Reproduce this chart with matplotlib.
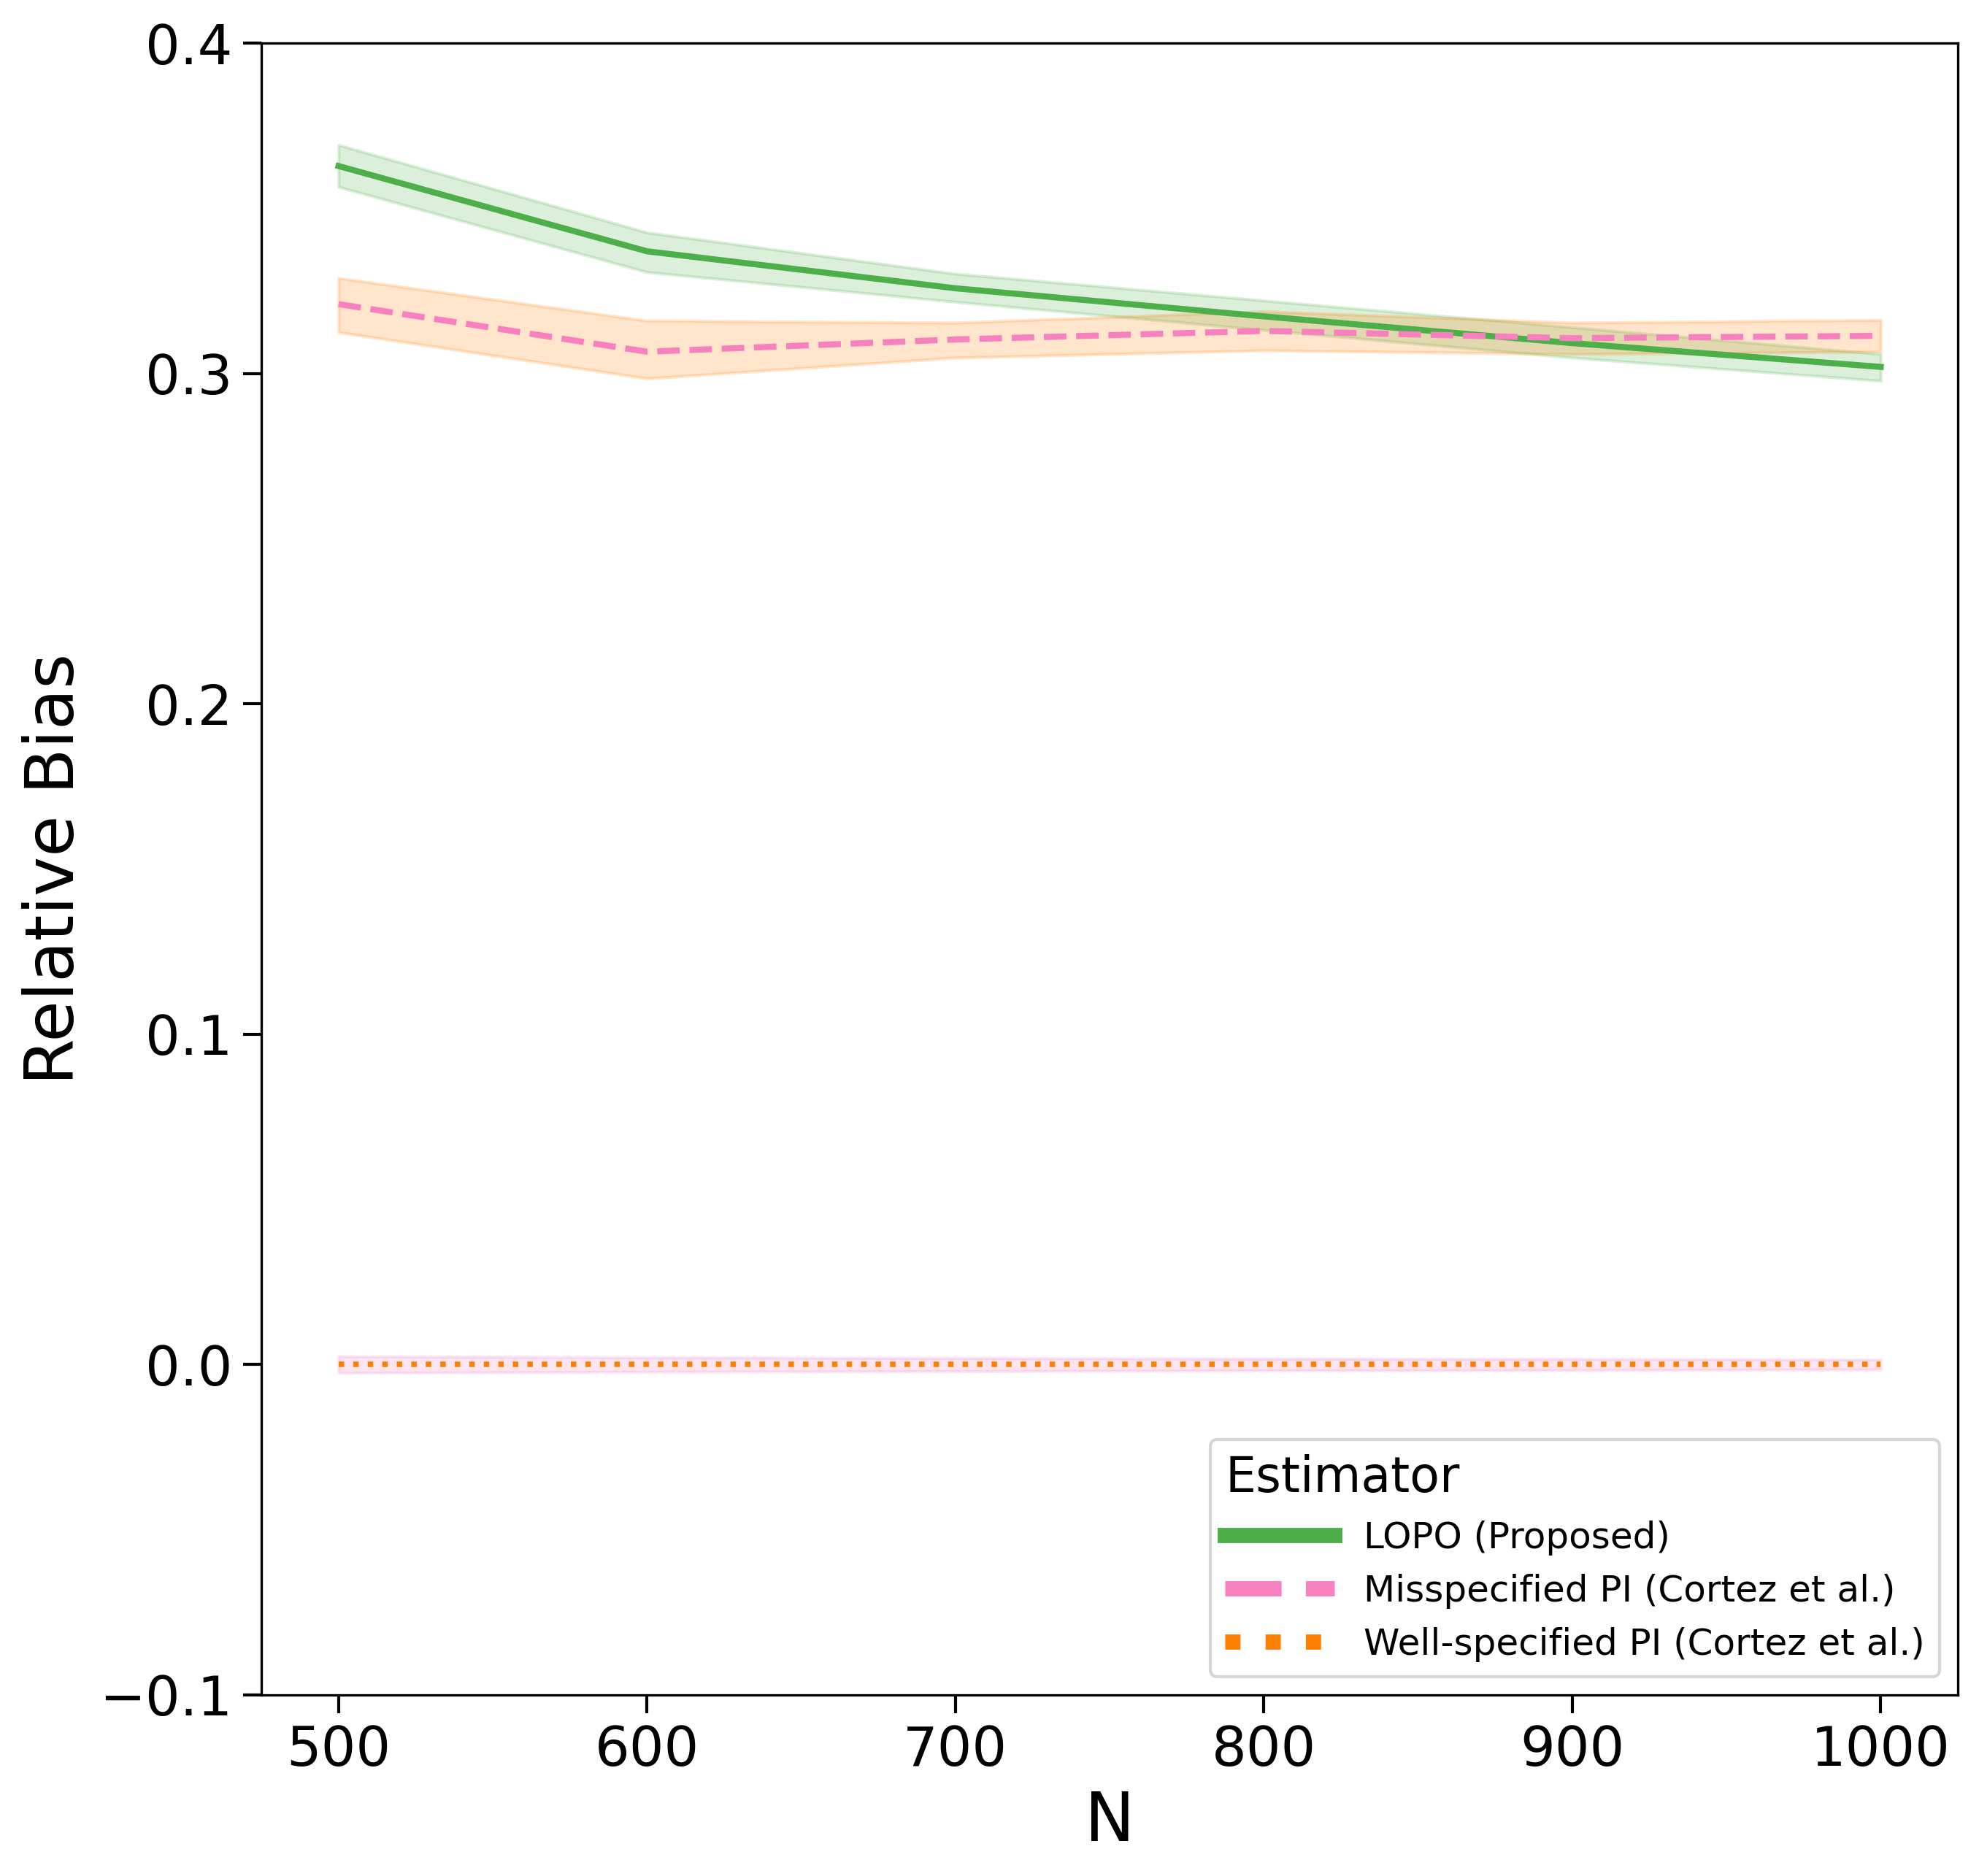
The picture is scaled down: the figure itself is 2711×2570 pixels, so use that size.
import numpy as np
import matplotlib
matplotlib.use('Agg')
import matplotlib.pyplot as plt
from matplotlib.lines import Line2D

# data
n_values = [500, 600, 700, 800, 900, 1000]

lopo_mean = [0.3628, 0.3370, 0.3258, 0.3173, 0.3092, 0.3020]
lopo_low = [0.3565, 0.3307, 0.3217, 0.3132, 0.3048, 0.2978]
lopo_high = [0.3692, 0.3427, 0.3302, 0.3221, 0.3140, 0.3059]

mis_mean = [0.3210, 0.3066, 0.3103, 0.3129, 0.3107, 0.3114]
mis_low = [0.3125, 0.2985, 0.3048, 0.3070, 0.3059, 0.3066]
mis_high = [0.3289, 0.3160, 0.3154, 0.3188, 0.3154, 0.3162]

well_mean = [0.0, 0.0, 0.0, 0.0, 0.0, 0.0]
well_low = [-0.0025, -0.0022, -0.0020, -0.0018, -0.0017, -0.0015]
well_high = [0.0025, 0.0022, 0.0020, 0.0018, 0.0017, 0.0015]

labels = ['LOPO (Proposed)', 'Misspecified PI (Cortez et al.)',
          'Well-specified PI (Cortez et al.)']

green = '#4daf4a'
pink = '#f781bf'
orange = '#ff7f00'

fig = plt.figure(figsize=(2711 / 300, 2570 / 300), dpi=300)
ax = fig.add_axes([0.1321, 0.0965, 0.8572, 0.8805])

# bands (note: band colours of the two PI estimators are swapped in the original)
ax.fill_between(n_values, lopo_low, lopo_high, color=green, alpha=0.2)
ax.fill_between(n_values, mis_low, mis_high, color=orange, alpha=0.2)
ax.fill_between(n_values, well_low, well_high, color=pink, alpha=0.2)

ax.plot(n_values, lopo_mean, color=green, lw=2, linestyle='-')
ax.plot(n_values, mis_mean, color=pink, lw=2, linestyle='--')
ax.plot(n_values, well_mean, color=orange, lw=1.8, linestyle=':')

ax.set_xlim(475, 1025)
ax.set_ylim(-0.1, 0.4)
ax.set_yticks(np.arange(-0.1, 0.41, 0.1))
ax.set_xticks(n_values)
ax.tick_params(labelsize=18, length=6, width=1)

ax.set_xlabel('N', fontsize=22)
ax.set_ylabel('Relative Bias', fontsize=22)

handles = [
    Line2D([0], [0], color=green, lw=5, linestyle='-'),
    Line2D([0], [0], color=pink, lw=5, linestyle='--'),
    Line2D([0], [0], color=orange, lw=5, linestyle=':'),
]
ax.legend(handles, labels, title='Estimator', loc='lower right',
          fontsize=12, title_fontsize=16, handlelength=3,
          labelspacing=0.5, alignment='left')

plt.savefig('out.png', dpi=300)
print("Saved plot as out.png")
